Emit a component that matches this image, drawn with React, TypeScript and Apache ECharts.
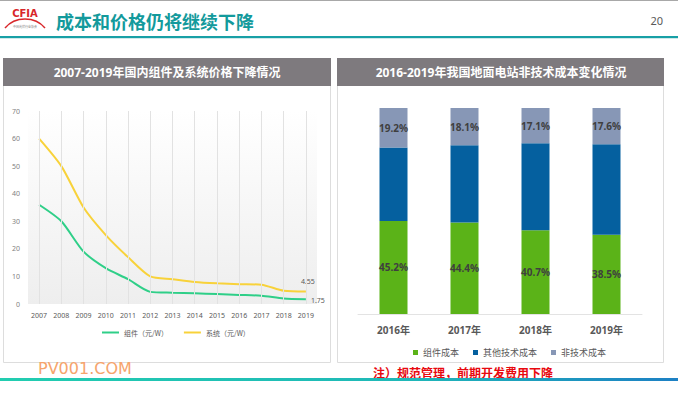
import React, { useEffect, useRef } from "react";
import * as echarts from "echarts";

const years = ["2007", "2008", "2009", "2010", "2011", "2012", "2013", "2014", "2015", "2016", "2017", "2018", "2019"];
const modulePrice = [36, 30, 19, 13, 9, 4.4, 4.1, 3.9, 3.6, 3.3, 3.0, 2.0, 1.75];
const systemPrice = [60, 50, 35, 25, 17, 10, 9, 8, 7.5, 7.2, 7.0, 4.8, 4.55];
const priceTicks = [0, 10, 20, 30, 40, 50, 60, 70];

const barYears = ["2016年", "2017年", "2018年", "2019年"];
const moduleCost = [45.2, 44.4, 40.7, 38.5];
const otherTechCost = [35.6, 37.5, 42.2, 43.9];
const nonTechCost = [19.2, 18.1, 17.1, 17.6];

const FONT = "'Noto Sans', 'Noto Sans CJK SC', sans-serif";
const CJK = "'Noto Sans CJK SC', 'Noto Sans', sans-serif";

export default function App() {
  const ref = useRef<HTMLDivElement>(null);
  useEffect(() => {
    if (!ref.current) return;
    const chart = echarts.init(ref.current, undefined, { renderer: "svg" });
    const lastLabel = (arr: number[], pos: string, offset: number[]) =>
      arr.map((v, i) =>
        i === arr.length - 1
          ? { value: v, label: { show: true, position: pos, offset, fontSize: 7, color: "#595959", fontFamily: FONT, distance: 4 } }
          : v
      );
    const option: any = {
      animation: false,
      backgroundColor: "#ffffff",
      textStyle: { fontFamily: FONT },
      graphic: [
        { type: "rect", shape: { x: 0, y: 0, width: 678, height: 1 }, style: { fill: "#a8a8a8" } },
        { type: "rect", shape: { x: 0, y: 36, width: 678, height: 2 }, style: { fill: "#18a0a6" } },
        { type: "rect", shape: { x: 0, y: 38, width: 678, height: 1 }, style: { fill: "#cfe9ea" } },
        { type: "text", x: 56, y: 21, style: { text: "成本和价格仍将继续下降", fill: "#139a9c", font: `bold 18px ${CJK}`, verticalAlign: "middle" } },
        { type: "text", x: 663, y: 20, style: { text: "20", fill: "#595959", font: `11px ${FONT}`, align: "right", verticalAlign: "middle" } },
        // logo
        { type: "text", x: 25, y: 13, style: { text: "CFIA", fill: "#d8262a", font: `bold 10px 'DejaVu Sans', sans-serif`, align: "center", verticalAlign: "middle" } },
        { type: "bezierCurve", shape: { x1: 5, y1: 28, x2: 45, y2: 28, cpx1: 15, cpy1: 16, cpx2: 35, cpy2: 16 }, style: { stroke: "#d8262a", lineWidth: 1.5, fill: "none" } },
        { type: "text", x: 25, y: 27, style: { text: "中国光伏行业协会", fill: "#777", font: `3px ${CJK}`, align: "center", verticalAlign: "middle" } },
        // left panel
        { type: "rect", z: -10, shape: { x: 3.5, y: 58.5, width: 327, height: 304 }, style: { fill: "#ffffff", stroke: "#dddddd", lineWidth: 1 } },
        { type: "rect", z: -9, shape: { x: 3, y: 58, width: 328, height: 28 }, style: { fill: "#7e7a7e" } },
        { type: "text", x: 167, y: 72, style: { text: "2007-2019年国内组件及系统价格下降情况", fill: "#ffffff", font: `bold 12px ${FONT}`, align: "center", verticalAlign: "middle" } },
        // right panel
        { type: "rect", z: -10, shape: { x: 337.5, y: 58.5, width: 326, height: 304 }, style: { fill: "#ffffff", stroke: "#dddddd", lineWidth: 1 } },
        { type: "rect", z: -9, shape: { x: 337, y: 58, width: 327, height: 28 }, style: { fill: "#7e7a7e" } },
        { type: "text", x: 501, y: 72, style: { text: "2016-2019年我国地面电站非技术成本变化情况", fill: "#ffffff", font: `bold 12px ${FONT}`, align: "center", verticalAlign: "middle" } },
        // footer
        { type: "text", x: 38, y: 368, style: { text: "PV001.COM", fill: "#f6a46c", font: `16px 'DejaVu Sans', sans-serif`, verticalAlign: "middle" } },
        { type: "text", x: 373, y: 372, style: { text: "注）规范管理，前期开发费用下降", fill: "#e8090f", font: `bold 12px ${CJK}`, verticalAlign: "middle" } },
        {
          type: "rect",
          shape: { x: 0, y: 378, width: 678, height: 3 },
          style: {
            fill: new echarts.graphic.LinearGradient(0, 0, 1, 0, [
              { offset: 0, color: "#22cdb0" },
              { offset: 0.6, color: "#1fb8b8" },
              { offset: 1, color: "#1d80c4" },
            ]),
          },
        },
      ],
      legend: [
        {
          data: ["组件（元/W）", "系统（元/W）"],
          left: 97,
          top: 324,
          icon: "rect",
          itemWidth: 17,
          itemHeight: 2,
          itemGap: 16,
          textStyle: { fontSize: 7, color: "#595959", fontFamily: CJK },
        },
        {
          data: ["组件成本", "其他技术成本", "非技术成本"],
          left: 408,
          top: 343,
          icon: "rect",
          itemWidth: 5,
          itemHeight: 5,
          itemGap: 14,
          textStyle: { fontSize: 9, color: "#595959", fontFamily: CJK },
        },
      ],
      grid: [
        {
          left: 28,
          right: 361,
          top: 111,
          bottom: 89,
          show: true,
          borderWidth: 0,
          backgroundColor: new echarts.graphic.LinearGradient(0, 0, 0, 1, [
            { offset: 0, color: "#ffffff" },
            { offset: 1, color: "#eeeeee" },
          ]),
        },
        { left: 358, right: 36, top: 108, bottom: 79 },
      ],
      xAxis: [
        {
          type: "category",
          gridIndex: 0,
          data: years,
          boundaryGap: true,
          axisLine: { show: false },
          axisTick: { show: false },
          axisLabel: { fontSize: 7, color: "#595959", margin: 8, interval: 0, fontFamily: FONT },
          splitLine: { show: false },
        },
        {
          type: "category",
          gridIndex: 1,
          data: barYears,
          axisLine: { show: true, lineStyle: { color: "#e3e3e3" } },
          axisTick: { show: false },
          axisLabel: { fontSize: 10, color: "#595959", fontWeight: "bold", margin: 11, fontFamily: FONT },
        },
      ],
      yAxis: [
        {
          type: "value",
          gridIndex: 0,
          min: priceTicks[0],
          max: priceTicks[priceTicks.length - 1],
          interval: 10,
          axisLine: { show: false },
          axisTick: { show: false },
          splitLine: { show: false },
          axisLabel: { fontSize: 7, color: "#7f7f7f", margin: 8, fontFamily: FONT },
        },
        { type: "value", gridIndex: 1, min: 0, max: 100, show: false },
      ],
      series: [
        {
          name: "组件（元/W）",
          type: "line",
          z: 2,
          xAxisIndex: 0,
          yAxisIndex: 0,
          data: lastLabel(modulePrice, "right", [1, 1]),
          smooth: 0.25,
          showSymbol: true,
          symbol: "circle",
          symbolSize: 0,
          lineStyle: { width: 2, color: "#2fcf88" },
          itemStyle: { color: "#2fcf88" },
          markLine: {
            silent: true,
            symbol: ["none", "none"],
            label: { show: false },
            lineStyle: { color: "#e2e2e2", width: 1, type: "solid" },
            data: years.map((y) => ({ xAxis: y })),
          },
        },
        {
          name: "系统（元/W）",
          type: "line",
          z: 3,
          xAxisIndex: 0,
          yAxisIndex: 0,
          data: lastLabel(systemPrice, "top", [2, -2]),
          smooth: 0.25,
          showSymbol: true,
          symbol: "circle",
          symbolSize: 0,
          lineStyle: { width: 2, color: "#f8d23a" },
          itemStyle: { color: "#f8d23a" },
        },
        {
          name: "组件成本",
          type: "bar",
          xAxisIndex: 1,
          yAxisIndex: 1,
          stack: "cost",
          barWidth: 28,
          data: moduleCost,
          itemStyle: { color: "#5bb318" },
          label: { show: true, position: "inside", formatter: "{c}%", fontSize: 10, fontWeight: "bold", color: "#3f3f3f", fontFamily: FONT },
        },
        {
          name: "其他技术成本",
          type: "bar",
          xAxisIndex: 1,
          yAxisIndex: 1,
          stack: "cost",
          barWidth: 28,
          data: otherTechCost,
          itemStyle: { color: "#05609f" },
        },
        {
          name: "非技术成本",
          type: "bar",
          xAxisIndex: 1,
          yAxisIndex: 1,
          stack: "cost",
          barWidth: 28,
          data: nonTechCost,
          itemStyle: { color: "#8797b6" },
          label: { show: true, position: "inside", formatter: "{c}%", fontSize: 10, fontWeight: "bold", color: "#3f3f3f", fontFamily: FONT },
        },
      ],
    };
    chart.setOption(option);
    return () => chart.dispose();
  }, []);
  return <div ref={ref} style={{ position: "fixed", left: 0, top: 0, width: 678, height: 393 }} />;
}
